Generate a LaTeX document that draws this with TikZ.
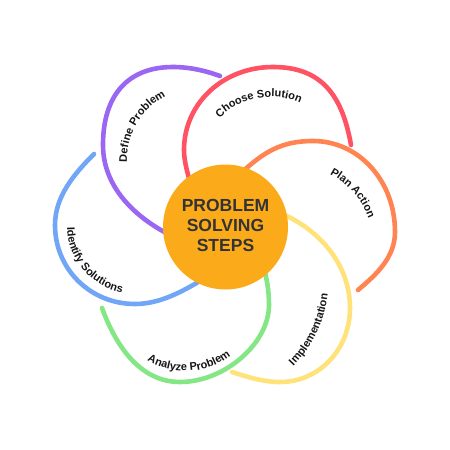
\documentclass[tikz,border=0pt]{standalone}
\usepackage{fontspec}
\setmainfont{Liberation Sans}
\usetikzlibrary{decorations.text,calc}
\definecolor{cpurple}{HTML}{9B66F2}
\definecolor{cred}{HTML}{FF5262}
\definecolor{corange}{HTML}{FF8452}
\definecolor{cyellow}{HTML}{FFE27A}
\definecolor{cgreen}{HTML}{84E684}
\definecolor{cblue}{HTML}{70A6F5}
\definecolor{chub}{HTML}{FBAB1A}
\definecolor{ctitle}{HTML}{333333}
\definecolor{clabel}{HTML}{151515}
\begin{document}
\begin{tikzpicture}[x=1pt,y=-1pt,
  petal/.style={line width=4.6pt, line cap=round},
  lbl/.style={decorate, decoration={text along path, text align=center, text={|\fontsize{11}{13}\selectfont\bfseries\color{clabel}|#1}}}]
\useasboundingbox (0,0) rectangle (450,450);
% petals
\draw[petal, cpurple] (220,76) .. controls (205,70.5) and (189,67) .. (173,67)
  .. controls (128,67) and (103,95) .. (103,145)
  .. controls (103,186) and (133.5,216.4) .. (170,235);
\draw[petal, cred] (191,186) .. controls (188.1,174.4) and (184,162) .. (184,150)
  .. controls (184,103.5) and (223,67) .. (273,67)
  .. controls (322,67) and (342.3,95.8) .. (351,145);
\draw[petal, corange] (240,174) .. controls (263.4,152.2) and (281,141) .. (313,141)
  .. controls (359,141) and (395,181) .. (395,232)
  .. controls (395,257) and (377.2,273.9) .. (358,290);
\draw[petal, cyellow] (278,212) .. controls (318.8,228.5) and (350,264) .. (350,308)
  .. controls (350,349.4) and (319.2,382) .. (280,382)
  .. controls (263.4,382) and (247.8,377.1) .. (232,372);
\draw[petal, cgreen] (102,308) .. controls (115.7,345.6) and (140,382) .. (180,382)
  .. controls (224.5,382) and (269,343.5) .. (269,305)
  .. controls (269,290) and (266.6,276.3) .. (262,262);
\draw[petal, cblue] (94,154) .. controls (73.9,174.1) and (55,196.6) .. (55,225)
  .. controls (55,269) and (90.2,304) .. (135,304)
  .. controls (162.3,304) and (186.6,289.1) .. (210,275);
% hub
\node[circle, fill=chub, minimum size=125pt, inner sep=0pt] (hub) at (225.5,227) {};
\node[align=center, text=ctitle, font=\fontsize{17.5}{20}\selectfont\bfseries] (title) at (225.5,225.5) {PROBLEM\\SOLVING\\STEPS};
% labels
\path[lbl={Define Problem}] ($(199,160)+(-168.1:72pt)$) arc[start angle=-168.1, end angle=-252.9, radius=72pt];
\path[lbl={Choose Solution}] ($(270.9,168.6)+(147.2:71.8pt)$) arc[start angle=147.2, end angle=54.1, radius=71.8pt];
\path[lbl={Plan Action}] ($(292,246)+(71.4:81.3pt)$) arc[start angle=71.4, end angle=10.3, radius=81.3pt];
\path[lbl={Implementation}] ($(206,280)+(-52:122.7pt)$) arc[start angle=-52, end angle=0.9, radius=122.7pt];
\path[lbl={Analyze Problem}] ($(185,296.2)+(-134.4:74.8pt)$) arc[start angle=-134.4, end angle=-38.3, radius=74.8pt];
\path[lbl={Identify Solutions}] ($(134.3,226.4)+(-197.4:67.2pt)$) arc[start angle=-197.4, end angle=-82.3, radius=67.2pt];
\end{tikzpicture}
\end{document}
